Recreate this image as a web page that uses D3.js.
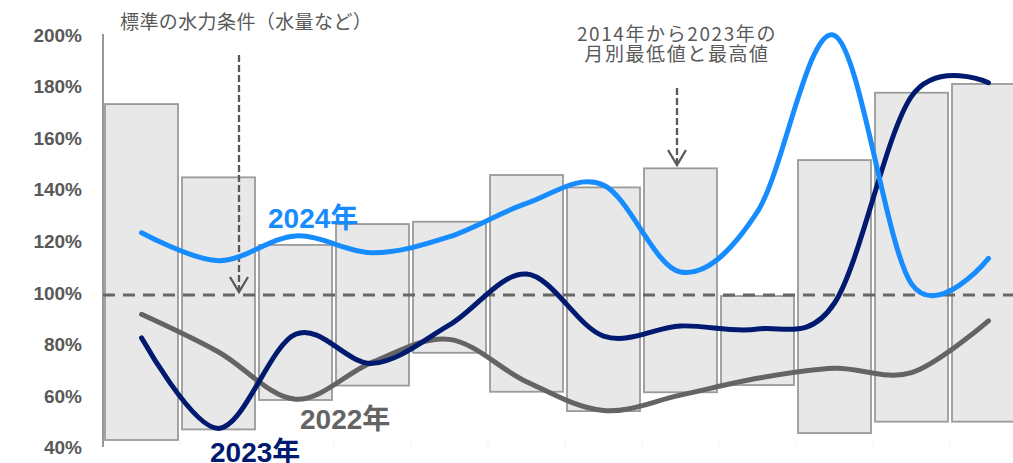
<!DOCTYPE html>
<html lang="ja">
<head>
<meta charset="utf-8">
<script src="https://cdn.jsdelivr.net/npm/d3@7"></script>
<style>
  html, body { margin: 0; padding: 0; background: #ffffff; }
  svg { display: block; }
</style>
</head>
<body>
<svg id="chart" width="1013" height="463"></svg>
<script>
// Monthly hydro conditions relative to the standard level (%)
const months = ["1月", "2月", "3月", "4月", "5月", "6月", "7月", "8月", "9月", "10月", "11月", "12月"];

// 2014–2023 monthly minimum and maximum
const rangeMin = [43.8, 47.9, 59.3, 64.9, 77.6, 62.5, 55.0, 62.3, 65.1, 46.5, 50.9, 50.9];
const rangeMax = [174.0, 145.6, 119.4, 127.5, 128.4, 146.5, 141.7, 149.1, 99.6, 152.3, 178.4, 181.8];

const values2022 = [92.5, 77.9, 59.6, 74.0, 82.8, 66.4, 55.2, 61.2, 67.7, 71.6, 69.9, 90.0];
const values2023 = [83.4, 48.3, 84.8, 73.5, 88.4, 108.1, 84.1, 88.0, 86.8, 96.9, 177.0, 182.3];
const values2024 = [124.1, 113.3, 122.9, 116.4, 122.6, 135.5, 142.6, 108.9, 132.3, 200.6, 104.3, 114.2];

const yTicks = [40, 60, 80, 100, 120, 140, 160, 180, 200];
const standardLevel = 100;

const svg = d3.select("#chart");
const GRAY_TEXT = "#595959";
const JP_FONT = "'Liberation Sans', 'Noto Sans CJK JP', sans-serif";

const x = d3.scaleBand()
  .domain(months)
  .range([103, 1027])
  .paddingInner(0.052)
  .paddingOuter(0.026);

const y = d3.scaleLinear()
  .domain([40, 200])
  .range([449.8, 37]);

// Min–max boxes per month
svg.append("g")
  .selectAll("rect")
  .data(months)
  .join("rect")
  .attr("x", d => x(d))
  .attr("width", x.bandwidth())
  .attr("y", (d, i) => y(rangeMax[i]))
  .attr("height", (d, i) => y(rangeMin[i]) - y(rangeMax[i]))
  .attr("fill", "#e8e8e8")
  .attr("stroke", "#9a9a9a")
  .attr("stroke-width", 1.8);

// Faint category ticks along the bottom
svg.append("g")
  .selectAll("line")
  .data(months.slice(1))
  .join("line")
  .attr("x1", d => x(d) - 2)
  .attr("x2", d => x(d) - 2)
  .attr("y1", 440)
  .attr("y2", 446)
  .attr("stroke", "#f2f2f2")
  .attr("stroke-width", 1);

// Y axis
const yAxis = svg.append("g")
  .attr("transform", "translate(103,0)")
  .call(d3.axisLeft(y)
    .tickValues(yTicks)
    .tickSize(0)
    .tickPadding(21)
    .tickFormat(d => d + "%"));
yAxis.select(".domain")
  .attr("d", "M0,34V447")
  .attr("stroke", "#7f7f7f")
  .attr("stroke-width", 1.6);
yAxis.selectAll("text")
  .attr("y", -2)
  .attr("fill", GRAY_TEXT)
  .style("font-family", "'Liberation Sans', Arial, sans-serif")
  .style("font-size", "19px")
  .style("font-weight", "bold");

// Standard level reference line
svg.append("line")
  .attr("x1", 103)
  .attr("x2", 1013)
  .attr("y1", y(standardLevel))
  .attr("y2", y(standardLevel))
  .attr("stroke", "#666666")
  .attr("stroke-width", 3)
  .attr("stroke-dasharray", "12,8");

// Dashed annotation arrows
function arrow(xPos, yTop, yTip) {
  const g = svg.append("g")
    .attr("stroke", GRAY_TEXT)
    .attr("stroke-width", 2.3)
    .attr("fill", "none");
  g.append("line")
    .attr("x1", xPos).attr("x2", xPos)
    .attr("y1", yTop).attr("y2", yTip - 2)
    .attr("stroke-dasharray", "7,3");
  g.append("path")
    .attr("d", `M${xPos - 9},${yTip - 15}L${xPos},${yTip}L${xPos + 9},${yTip - 15}`);
}
arrow(239, 55, 292);
arrow(677, 88, 165);

// Yearly curves
const line = d3.line()
  .x((d, i) => x(months[i]) + x.bandwidth() / 2)
  .y(d => y(d))
  .curve(d3.curveCardinal.tension(0));

const series = [
  { values: values2022, color: "#646464" },
  { values: values2023, color: "#001a70" },
  { values: values2024, color: "#168cff" }
];

svg.append("g")
  .selectAll("path")
  .data(series)
  .join("path")
  .attr("d", d => line(d.values))
  .attr("fill", "none")
  .attr("stroke", d => d.color)
  .attr("stroke-width", 5)
  .attr("stroke-linecap", "round")
  .attr("stroke-linejoin", "round");

// Series labels
const labels = [
  { text: "2024年", x: 268, y: 228, color: "#168cff" },
  { text: "2022年", x: 300, y: 429, color: "#646464" },
  { text: "2023年", x: 210, y: 462, color: "#001a70" }
];
svg.append("g")
  .selectAll("text")
  .data(labels)
  .join("text")
  .attr("x", d => d.x)
  .attr("y", d => d.y)
  .attr("fill", d => d.color)
  .style("font-family", JP_FONT)
  .style("font-size", "28px")
  .style("font-weight", "bold")
  .text(d => d.text);

// Annotation texts
svg.append("text")
  .attr("x", 120)
  .attr("y", 29)
  .attr("fill", GRAY_TEXT)
  .style("font-family", "'Noto Sans CJK JP', sans-serif")
  .style("font-size", "19px")
  .style("letter-spacing", "0.4px")
  .text("標準の水力条件（水量など）");

const noteLines = ["2014年から2023年の", "月別最低値と最高値"];
svg.append("g")
  .selectAll("text")
  .data(noteLines)
  .join("text")
  .attr("x", 677)
  .attr("y", (d, i) => 41 + i * 20)
  .attr("text-anchor", "middle")
  .attr("fill", GRAY_TEXT)
  .style("font-family", "'Noto Sans CJK JP', sans-serif")
  .style("font-size", "19px")
  .style("letter-spacing", "1.6px")
  .text(d => d);
</script>
</body>
</html>
